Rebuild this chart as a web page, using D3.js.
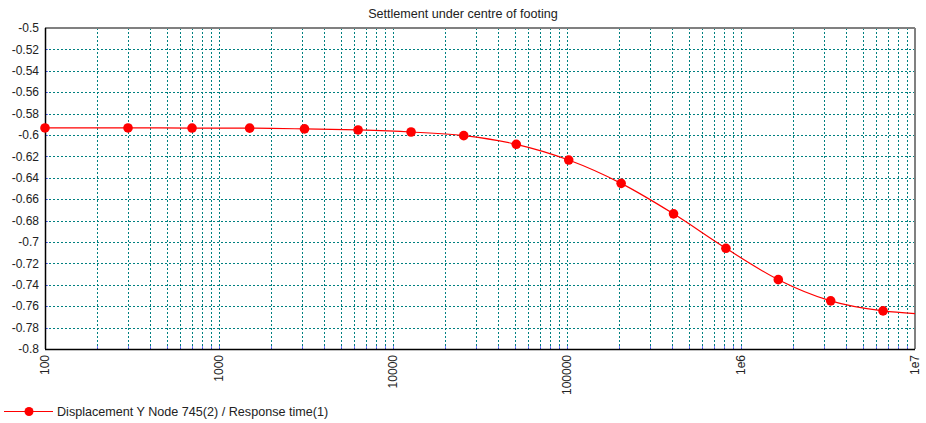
<!DOCTYPE html>
<html>
<head>
<meta charset="utf-8">
<script src="https://cdn.jsdelivr.net/npm/d3@7"></script>
<style>
  body { margin: 0; background: #fff; }
  svg { display: block; font-family: "Liberation Sans", Arial, sans-serif; }
</style>
</head>
<body>
<div id="chart"></div>
<script>
const WIDTH = 926, HEIGHT = 423;
const margin = {top: 28, right: 11, bottom: 74, left: 45};

// response time (x) and vertical displacement (y)
const times = [100, 300, 700, 1500, 3100, 6300, 12700, 25500, 51100, 102300,
               204700, 409500, 819100, 1638300, 3276700, 6553500];
const displacement = [-0.5934, -0.5934, -0.5935, -0.5936, -0.5943, -0.5953, -0.5972, -0.6006,
                      -0.6087, -0.6234, -0.6452, -0.6737, -0.7059, -0.7352, -0.7550, -0.7644];
// curve continues past the last marker to the axis end
const tailTime = [10000000];
const tailDisplacement = [-0.7669];

const xTickValues = [100, 1000, 10000, 100000, 1000000, 10000000];
const xTickLabels = ["100", "1000", "10000", "100000", "1e6", "1e7"];
const yTickValues = d3.range(0, 16).map(i => -0.5 - i * 0.02);
const yTickLabels = ["-0.5", "-0.52", "-0.54", "-0.56", "-0.58", "-0.6", "-0.62", "-0.64",
                     "-0.66", "-0.68", "-0.7", "-0.72", "-0.74", "-0.76", "-0.78", "-0.8"];

const chartTitle = "Settlement under centre of footing";
const seriesName = "Displacement Y Node 745(2) / Response time(1)";

let plotW = WIDTH - margin.left - margin.right;
let plotH = HEIGHT - margin.top - margin.bottom;

let svg = d3.select("#chart")
    .append("svg")
    .attr("width", WIDTH)
    .attr("height", HEIGHT);

let g = svg.append("g")
    .attr("transform", `translate(${margin.left},${margin.top})`);

let x = d3.scaleLog().domain([100, 10000000]).range([0, plotW]);
let y = d3.scaleLinear().domain([-0.8, -0.5]).range([plotH, 0]);

// minor + major vertical grid lines (1..9 per decade)
let xGrid = [];
for (let p = 2; p <= 6; p++) {
    for (let m = 1; m <= 9; m++) {
        let v = m * Math.pow(10, p);
        if (v > 100 && v < 10000000) xGrid.push(v);
    }
}

g.append("g")
    .selectAll("line")
    .data(xGrid)
    .enter().append("line")
    .attr("x1", d => Math.round(x(d)) + 0.5)
    .attr("x2", d => Math.round(x(d)) + 0.5)
    .attr("y1", 0)
    .attr("y2", plotH)
    .style("stroke", "#008080")
    .style("stroke-width", 1)
    .style("stroke-dasharray", "2,2");

g.append("g")
    .selectAll("line")
    .data(yTickValues.slice(1, -1))
    .enter().append("line")
    .attr("x1", 0)
    .attr("x2", plotW)
    .attr("y1", d => Math.round(y(d)) + 0.5)
    .attr("y2", d => Math.round(y(d)) + 0.5)
    .style("stroke", "#008080")
    .style("stroke-width", 1)
    .style("stroke-dasharray", "2,2");

// small blue tick marks inside the axes
g.append("g")
    .selectAll("line")
    .data(yTickValues.slice(1, -1))
    .enter().append("line")
    .attr("x1", 0)
    .attr("x2", 3)
    .attr("y1", d => Math.round(y(d)) + 0.5)
    .attr("y2", d => Math.round(y(d)) + 0.5)
    .style("stroke", "#4040ff")
    .style("opacity", 0.7);

g.append("g")
    .selectAll("line")
    .data(xGrid)
    .enter().append("line")
    .attr("x1", d => Math.round(x(d)) + 0.5)
    .attr("x2", d => Math.round(x(d)) + 0.5)
    .attr("y1", plotH - 3)
    .attr("y2", plotH)
    .style("stroke", "#4040ff")
    .style("opacity", 0.7);

// frame: grey top/right, black left/bottom
g.append("line")
    .attr("x1", 0).attr("x2", plotW)
    .attr("y1", 0).attr("y2", 0)
    .style("stroke", "#808080").style("stroke-width", 2);
g.append("line")
    .attr("x1", plotW).attr("x2", plotW)
    .attr("y1", 0).attr("y2", plotH)
    .style("stroke", "#808080").style("stroke-width", 2);
g.append("line")
    .attr("x1", 0.5).attr("x2", 0.5)
    .attr("y1", 0).attr("y2", plotH)
    .style("stroke", "#000").style("stroke-width", 1.5);
g.append("line")
    .attr("x1", 0).attr("x2", plotW)
    .attr("y1", plotH + 0.5).attr("y2", plotH + 0.5)
    .style("stroke", "#000").style("stroke-width", 1.5);

// y tick labels
g.append("g")
    .selectAll("text")
    .data(yTickValues)
    .enter().append("text")
    .attr("x", -6)
    .attr("y", d => y(d))
    .attr("dy", "0.35em")
    .style("text-anchor", "end")
    .style("font-size", "12px")
    .style("fill", "#222")
    .text((d, i) => yTickLabels[i]);

// x tick labels, rotated
g.append("g")
    .selectAll("text")
    .data(xTickValues)
    .enter().append("text")
    .attr("transform", d => `translate(${x(d)},${plotH + 6}) rotate(-90)`)
    .attr("dy", "0.35em")
    .style("text-anchor", "end")
    .style("font-size", "12px")
    .style("fill", "#222")
    .text((d, i) => xTickLabels[i]);

// series
let points = times.map((t, i) => ({t: t, v: displacement[i]}));
let linePoints = points.concat(tailTime.map((t, i) => ({t: t, v: tailDisplacement[i]})));

let line = d3.line()
    .x(d => x(d.t))
    .y(d => y(d.v))
    .curve(d3.curveMonotoneX);

g.append("path")
    .datum(linePoints)
    .attr("d", line)
    .style("fill", "none")
    .style("stroke", "#ff0000")
    .style("stroke-width", 1.2);

g.append("g")
    .selectAll("circle")
    .data(points)
    .enter().append("circle")
    .attr("cx", d => x(d.t))
    .attr("cy", d => y(d.v))
    .attr("r", 4.8)
    .style("fill", "#ff0000");

// title
svg.append("text")
    .attr("x", WIDTH / 2)
    .attr("y", 18)
    .style("text-anchor", "middle")
    .style("font-size", "12.6px")
    .style("fill", "#222")
    .text(chartTitle);

// legend
let legend = svg.append("g").attr("transform", "translate(0,411.5)");
legend.append("line")
    .attr("x1", 4).attr("x2", 53)
    .attr("y1", 0).attr("y2", 0)
    .style("stroke", "#ff0000")
    .style("stroke-width", 1.2);
legend.append("circle")
    .attr("cx", 29).attr("cy", 0).attr("r", 4.5)
    .style("fill", "#ff0000");
legend.append("text")
    .attr("x", 57)
    .attr("y", 0)
    .attr("dy", "0.35em")
    .style("font-size", "12.6px")
    .style("fill", "#222")
    .text(seriesName);
</script>
</body>
</html>
